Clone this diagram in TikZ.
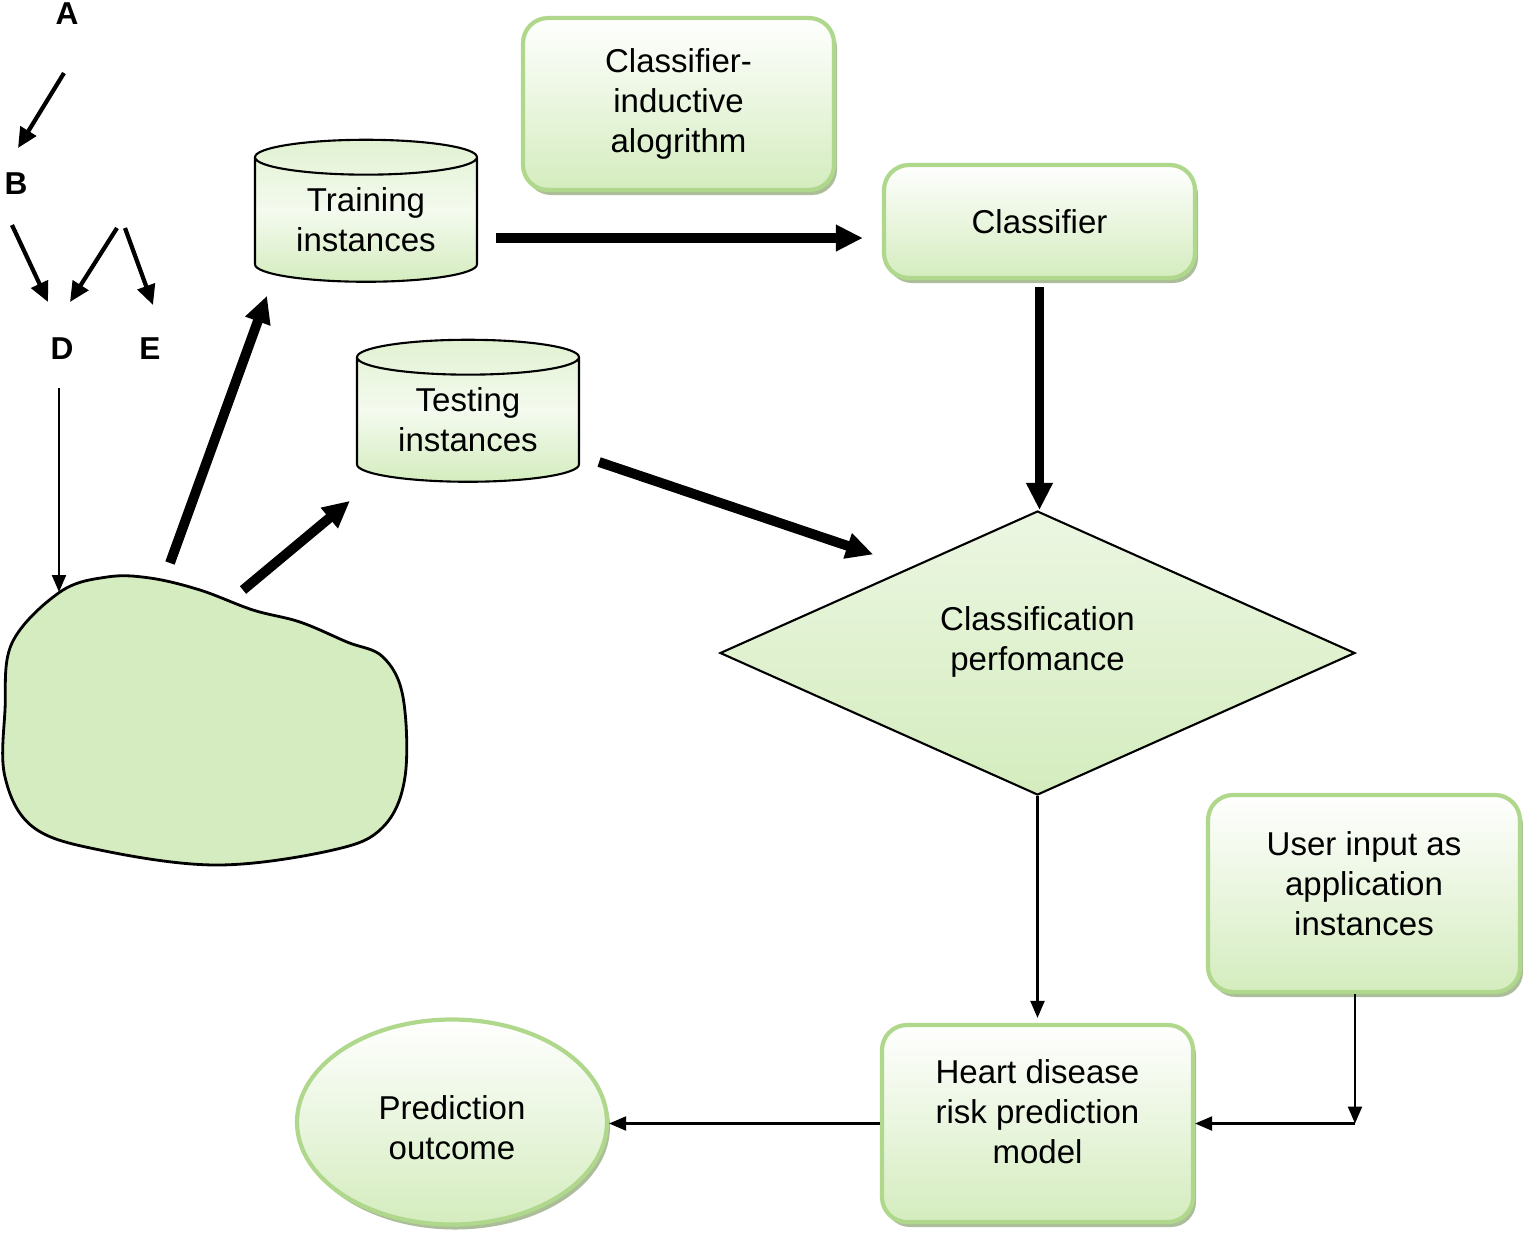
\documentclass[tikz,border=0pt]{standalone}
\usepackage{fontspec}
\setmainfont{Liberation Sans}
\usetikzlibrary{arrows.meta,shapes.geometric,shadows}
\definecolor{boxgreen}{RGB}{212,236,190}
\definecolor{edgegreen}{RGB}{176,216,140}
\definecolor{blobgreen}{RGB}{213,236,192}
\definecolor{shadegreen}{RGB}{150,172,128}
\tikzset{
  gbox/.style={draw=edgegreen, line width=1.2pt, rounded corners=0.25cm,
    top color=white, bottom color=boxgreen, align=center, inner sep=0pt,
    drop shadow={shadow xshift=0.03cm, shadow yshift=-0.05cm, fill=shadegreen, opacity=0.8}},
  gcyl/.style={cylinder, shape border rotate=90, aspect=0.25, draw, line width=0.6pt,
    top color=boxgreen!70, bottom color=boxgreen, middle color=boxgreen!25,
    align=center, inner sep=0pt},
  letter/.style={font=\fontsize{9pt}{10pt}\selectfont\bfseries},
  fat/.style={line width=2.8pt, -{Triangle[length=0.27cm,width=0.25cm]}},
  mid/.style={line width=1.2pt, -{Triangle[length=0.2cm,width=0.18cm]}},
  slim/.style={line width=0.6pt, -{Triangle[length=0.17cm,width=0.14cm]}}
}
\begin{document}
\begin{tikzpicture}[font=\fontsize{9.4pt}{11.4pt}\selectfont]
  \useasboundingbox (0,0) rectangle (15.23,-12.37);
  %%%%%%%%%%%%%letter tree%%%%%%%%%%%%%%%%%%%%%%
  \node[letter] (A) at (0.67,-0.14) {A};
  \node[letter] (B) at (0.16,-1.84) {B};
  \node[letter] (D) at (0.62,-3.49) {D};
  \node[letter] (E) at (1.50,-3.49) {E};
  \coordinate (fork) at (1.21,-2.28);
  \draw[mid] ([shift={(-0.03,-0.59)}]A.center) -- ([shift={(0.02,0.36)}]B.center);
  \draw[mid] ([shift={(-0.04,-0.41)}]B.center) -- ([shift={(-0.14,0.47)}]D.center);
  \draw[mid] ([xshift=-0.04cm]fork) -- ([shift={(0.08,0.47)}]D.center);
  \draw[mid] ([xshift=0.04cm]fork) -- ([shift={(0.03,0.44)}]E.center);

  %%%%%%%%%%%%%data blob%%%%%%%%%%%%%%%%%%%%%%
  \draw[fill=blobgreen, line width=0.8pt] plot[smooth cycle, tension=0.6] coordinates {
    (0.60,-5.92) (1.07,-5.77) (1.50,-5.78) (2.00,-5.90) (2.53,-6.10) (3.00,-6.22)
    (3.47,-6.42) (3.83,-6.57) (4.03,-6.97) (4.05,-7.77) (3.83,-8.27) (3.33,-8.50)
    (2.17,-8.65) (1.00,-8.50) (0.33,-8.27) (0.05,-7.77) (0.05,-7.10) (0.12,-6.43)};
  \coordinate (blobtop) at (0.59,-5.92);
  \coordinate (blobA) at (1.70,-5.63);
  \coordinate (blobB) at (2.43,-5.90);
  \draw[slim] ([yshift=-0.39cm]D.center -| blobtop) -- (blobtop);

  %%%%%%%%%%%%%boxes%%%%%%%%%%%%%%%%%%%%%%
  \node[gbox, minimum width=3.11cm, minimum height=1.72cm] (algo) at (6.785,-1.04)
    {Classifier-\\inductive\\alogrithm};
  \node[gbox, minimum width=3.11cm, minimum height=1.13cm] (clf) at (10.395,-2.215) {Classifier};
  \node[gcyl, minimum width=2.22cm, minimum height=1.42cm] (train) at (3.66,-2.20)
    {Training\\instances};
  \node[gcyl, minimum width=2.22cm, minimum height=1.42cm] (test) at (4.68,-4.20)
    {Testing\\instances};
  \node[diamond, draw, line width=0.6pt, aspect=2.24, minimum width=6.35cm, minimum height=2.84cm,
    inner sep=0pt, top color=boxgreen!45, bottom color=boxgreen, align=center,
    text depth=0.29cm] (perf) at (10.375,-6.53) {Classification\\perfomance};
  \node[gbox, minimum width=3.12cm, minimum height=1.97cm, text depth=0.2cm] (user)
    at (13.64,-8.935) {User input as\\application\\instances};
  \node[gbox, minimum width=3.11cm, minimum height=1.97cm, text depth=0.24cm] (heart)
    at (10.375,-11.235) {Heart disease\\risk prediction\\model};
  \node[ellipse, gbox, minimum width=3.1cm, minimum height=2.05cm, text height=0.76cm] (pred)
    at (4.52,-11.22) {Prediction\\outcome};
  \coordinate (turn) at (13.55,-11.235);

  %%%%%%%%%%%%%connectors%%%%%%%%%%%%%%%%%%%%%%
  \draw[fat, shorten <=0.18cm, shorten >=0.19cm] (train.east |- 0,-2.38) -- (clf.west |- 0,-2.38);
  \draw[fat] (blobA) -- ([shift={(-0.99,-0.13)}]train.south);
  \draw[fat] (blobB) -- ([shift={(-1.18,-0.18)}]test.south);
  \draw[fat] ([shift={(0.19,-0.42)}]test.east) -- ([shift={(-0.05,0.27)}]perf.north west);
  \draw[fat, shorten <=0.07cm] (clf.south) -- (clf.south |- perf.north);
  \draw[slim, shorten >=0.05cm] (perf.south) -- (perf.south |- heart.north);
  \draw[slim] (user.south -| turn) -- (turn);
  \draw[slim] (turn) -- (heart.east);
  \draw[slim] (heart.west) -- (heart.west -| pred.east);
\end{tikzpicture}
\end{document}
